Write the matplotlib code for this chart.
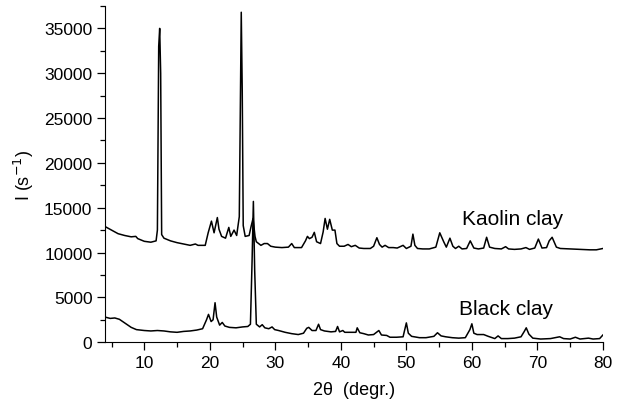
import matplotlib
matplotlib.use('Agg')
import matplotlib.pyplot as plt
from matplotlib.ticker import MultipleLocator

plt.rcParams['font.family'] = ['Liberation Sans', 'DejaVu Sans']

# Kaolin clay pattern (2theta, counts/s)
kaolin_x = [4.0, 5.0, 6.0, 7.0, 8.0, 8.7, 9.0, 10.0, 11.0, 11.8, 12.0, 12.2,
            12.35, 12.5, 12.65, 13.0, 14.0, 15.0, 16.0, 17.0, 17.8, 18.2,
            19.3, 19.75, 20.25, 20.65, 21.15, 21.4, 21.8, 22.4, 22.9, 23.2,
            23.7, 24.1, 24.5, 24.8, 24.95, 25.1, 25.4, 26.0, 26.3, 26.6,
            26.9, 27.1, 27.8, 28.3, 28.8, 29.3, 30.0, 31.0, 32.0, 32.5, 32.9,
            34.0, 34.6, 34.9, 35.2, 35.6, 35.95, 36.3, 36.9, 37.3, 37.6,
            37.95, 38.3, 38.7, 39.1, 39.4, 39.8, 40.5, 41.1, 41.6, 42.2,
            42.8, 43.5, 44.5, 45.0, 45.5, 45.9, 46.3, 46.75, 47.3, 48.0,
            48.6, 49.5, 50.0, 50.7, 51.0, 51.3, 51.7, 52.5, 53.5, 54.5, 55.1,
            55.7, 56.1, 56.65, 57.1, 57.5, 58.0, 58.5, 59.2, 59.75, 60.3,
            61.0, 61.8, 62.25, 62.7, 63.5, 64.5, 65.15, 65.6, 66.5, 67.5,
            68.25, 68.8, 69.6, 70.15, 70.7, 71.4, 71.8, 72.25, 72.9, 73.5,
            75.0, 76.5, 78.0, 79.0, 80.0]
kaolin_y = [12900, 12500, 12100, 11900, 11750, 11800, 11550, 11250, 11150,
            11300, 12500, 33000, 35000, 30000, 12000, 11600, 11300, 11100,
            10950, 10800, 10950, 10800, 10800, 12200, 13500, 12200, 13900,
            12600, 11800, 11600, 12800, 11800, 12500, 11900, 14000, 36800,
            28000, 13000, 11800, 11900, 12900, 13800, 11800, 11200, 10800,
            11000, 11000, 10700, 10600, 10550, 10600, 11000, 10550, 10550,
            11300, 11800, 11550, 11700, 12250, 11200, 11000, 12300, 13800,
            12600, 13700, 12500, 12500, 11000, 10700, 10700, 10900, 10650,
            10800, 10500, 10450, 10450, 10700, 11650, 10900, 10600, 10800,
            10550, 10550, 10500, 10800, 10450, 10700, 12050, 10800, 10450,
            10400, 10400, 10600, 12200, 11200, 10600, 11600, 10700, 10450,
            10700, 10400, 10450, 11300, 10500, 10400, 10500, 11700, 10600,
            10450, 10400, 10650, 10400, 10350, 10400, 10550, 10350, 10500,
            11500, 10500, 10550, 11300, 11700, 10600, 10450, 10400, 10350,
            10300, 10300, 10450]

# Black clay pattern
black_x = [4.0, 4.8, 5.5, 6.2, 7.0, 8.0, 8.8, 10.0, 11.0, 12.0, 13.0, 14.0,
           15.0, 16.0, 17.0, 18.0, 18.9, 19.5, 19.8, 20.2, 20.5, 20.8, 21.05,
           21.5, 21.9, 22.3, 23.0, 24.0, 25.0, 25.8, 26.2, 26.45, 26.65,
           26.85, 27.1, 27.6, 28.0, 28.4, 29.0, 29.5, 29.9, 30.5, 31.5, 32.5,
           33.5, 34.3, 34.8, 35.1, 35.6, 36.2, 36.6, 36.9, 37.5, 38.5, 39.2,
           39.5, 39.8, 40.3, 40.6, 41.5, 42.3, 42.5, 42.9, 43.5, 44.2, 45.0,
           45.8, 46.2, 47.0, 47.5, 48.5, 49.5, 50.0, 50.3, 50.8, 52.0, 53.0,
           54.2, 54.75, 55.3, 56.0, 57.0, 58.0, 59.0, 59.7, 60.0, 60.3, 60.8,
           61.8, 62.5, 63.5, 64.0, 64.5, 65.5, 66.5, 67.5, 68.0, 68.3, 68.7,
           69.3, 70.5, 72.0, 73.4, 74.0, 75.0, 75.8, 76.5, 77.8, 78.5, 79.5,
           80.0]
black_y = [2800, 2650, 2700, 2550, 2150, 1650, 1400, 1300, 1250, 1300, 1250,
           1150, 1100, 1200, 1250, 1350, 1500, 2500, 3100, 2300, 2500, 4400,
           2800, 1900, 2200, 1800, 1650, 1600, 1700, 1750, 2000, 9000, 15700,
           8000, 2000, 1700, 1950, 1600, 1500, 1700, 1400, 1300, 1100, 950,
           850, 1000, 1550, 1650, 1300, 1300, 2000, 1400, 1250, 1150, 1200,
           1750, 1150, 1300, 1100, 1100, 1100, 1600, 1050, 950, 800, 850,
           1300, 800, 750, 550, 550, 600, 2150, 1000, 650, 500, 500, 650,
           1050, 700, 600, 500, 450, 500, 1400, 2050, 1000, 850, 850, 650,
           400, 700, 400, 400, 450, 600, 1200, 1600, 900, 450, 350, 400, 600,
           400, 350, 550, 350, 450, 350, 400, 800]

fig = plt.figure(figsize=(6.19, 4.10), dpi=100)
ax = fig.add_axes([0.1696, 0.163, 0.8044, 0.82])

ax.plot(kaolin_x, kaolin_y, color='black', linewidth=1.1)
ax.plot(black_x, black_y, color='black', linewidth=1.1)

ax.text(58.5, 13150, 'Kaolin clay', fontsize=15)
ax.text(58.1, 3120, 'Black clay', fontsize=15)

ax.set_xlim(4, 80)
ax.set_ylim(0, 37500)
ax.xaxis.set_major_locator(MultipleLocator(10))
ax.xaxis.set_minor_locator(MultipleLocator(5))
ax.yaxis.set_major_locator(MultipleLocator(5000))
ax.yaxis.set_minor_locator(MultipleLocator(2500))

ax.spines['right'].set_visible(False)
ax.spines['top'].set_visible(False)
ax.tick_params(which='major', direction='out', length=5.5, width=0.9,
               labelsize=12.5)
ax.tick_params(which='minor', direction='out', length=3.5, width=0.9)

ax.set_xlabel('2\u03b8  (degr.)', fontsize=13, labelpad=8)
ax.set_ylabel('I (s$^{-1}$)', fontsize=13, labelpad=6)

plt.savefig('out.png', dpi=100)
